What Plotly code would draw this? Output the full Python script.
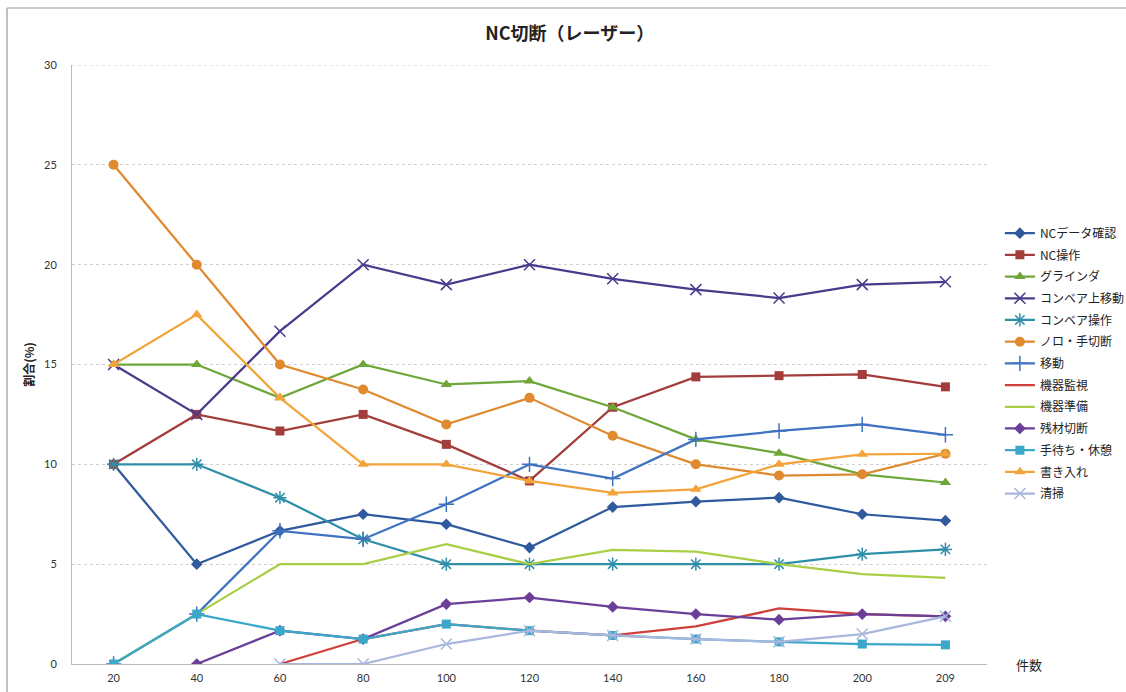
import plotly.graph_objects as go

categories = ["20", "40", "60", "80", "100", "120", "140", "160", "180", "200", "209"]

nc_data = [10, 5, 6.67, 7.5, 7, 5.83, 7.86, 8.13, 8.33, 7.5, 7.18]
nc_ops = [10, 12.5, 11.67, 12.5, 11, 9.17, 12.86, 14.38, 14.44, 14.5, 13.88]
grinder = [15, 15, 13.33, 15, 14, 14.17, 12.86, 11.25, 10.56, 9.5, 9.09]
conv_move = [15, 12.5, 16.67, 20, 19, 20, 19.29, 18.75, 18.33, 19, 19.14]
conv_ops = [10, 10, 8.33, 6.25, 5, 5, 5, 5, 5, 5.5, 5.74]
noro = [25, 20, 15, 13.75, 12, 13.33, 11.43, 10, 9.44, 9.5, 10.53]
move = [0, 2.5, 6.67, 6.25, 8, 10, 9.29, 11.25, 11.67, 12, 11.48]
monitor = [None, None, 0, 1.25, 2, 1.67, 1.43, 1.88, 2.78, 2.5, 2.39]
prep = [0, 2.5, 5, 5, 6, 5, 5.71, 5.63, 5, 4.5, 4.31]
scrap = [None, 0, 1.67, 1.25, 3, 3.33, 2.86, 2.5, 2.22, 2.5, 2.39]
waiting = [0, 2.5, 1.67, 1.25, 2, 1.67, 1.43, 1.25, 1.11, 1, 0.96]
writing = [15, 17.5, 13.33, 10, 10, 9.17, 8.57, 8.75, 10, 10.5, 10.53]
cleaning = [None, None, 0, 0, 1, 1.67, 1.43, 1.25, 1.11, 1.5, 2.39]

series = [
    ("NCデータ確認", nc_data, "#2F5A9E", "diamond", 9, 0),
    ("NC操作", nc_ops, "#A33D3B", "square", 9, 0),
    ("グラインダ", grinder, "#6FA63A", "triangle-up", 10, 0),
    ("コンベア上移動", conv_move, "#4B3A8C", "x-thin-open", 11, 1.5),
    ("コンベア操作", conv_ops, "#2F8FA8", "asterisk-open", 11, 1.5),
    ("ノロ・手切断", noro, "#E08A30", "circle", 10, 0),
    ("移動", move, "#3F72C0", "cross-thin-open", 11, 1.5),
    ("機器監視", monitor, "#D0403A", None, 0, 0),
    ("機器準備", prep, "#A8CF45", None, 0, 0),
    ("残材切断", scrap, "#6B3E98", "diamond", 9, 0),
    ("手待ち・休憩", waiting, "#3BA7C9", "square", 9, 0),
    ("書き入れ", writing, "#F2A43A", "triangle-up", 10, 0),
    ("清掃", cleaning, "#A9B7DE", "x-thin-open", 11, 1.5),
]

FONT = "Lato, 'Noto Sans CJK JP', sans-serif"
JP = "'Noto Sans CJK JP', sans-serif"

fig = go.Figure()
for i, (name, vals, color, sym, size, lw) in enumerate(series):
    if sym is None:
        fig.add_trace(go.Scatter(
            x=categories, y=vals, name=name, mode="lines",
            line=dict(color=color, width=2.25), legendgroup=str(i),
        ))
    else:
        fig.add_trace(go.Scatter(
            x=categories, y=vals, name=name, mode="lines+markers",
            line=dict(color=color, width=2.25),
            marker=dict(symbol=sym, size=size, color=color,
                        line=dict(color=color, width=lw)),
            legendgroup=str(i),
        ))

fig.update_layout(
    width=1126, height=692,
    margin=dict(l=72, r=139, t=65, b=28, autoexpand=False),
    paper_bgcolor="white", plot_bgcolor="white",
    font=dict(family=FONT, size=11, color="#333333"),
    title=dict(text="<b>NC切断（レーザー）</b>", x=0.506, xanchor="center",
               y=0.952, yanchor="middle",
               font=dict(family=JP, size=18, color="#222222")),
    showlegend=True,
    legend=dict(xref="container", yref="container", x=0.888, xanchor="left",
                y=0.684, yanchor="top",
                font=dict(family=JP, size=12, color="#222222"),
                tracegroupgap=2.7, itemwidth=30, bgcolor="rgba(0,0,0,0)"),
    xaxis=dict(type="category", range=[-0.5, 10.5], showgrid=False,
               showline=True, linecolor="#BBBBBB", linewidth=1,
               ticks="", ticklabelstandoff=4,
               tickfont=dict(size=11, color="#333333"), zeroline=False),
    yaxis=dict(range=[0, 30], dtick=5, showgrid=True, gridcolor="#CFCFCF",
               griddash="dot", gridwidth=1, showline=True, linecolor="#BBBBBB",
               tickfont=dict(size=11, color="#333333"), ticks="",
               ticklabelstandoff=12,
               zeroline=False,
               title=dict(text="<b>割合(%)</b>", standoff=6,
                          font=dict(family=JP, size=12, color="#222222"))),
    annotations=[dict(text="件数", xref="paper", yref="paper", x=1.03, y=0.0,
                      xanchor="left", yanchor="middle", showarrow=False,
                      font=dict(family=JP, size=13, color="#222222"))],
    shapes=[
        dict(type="line", xref="paper", yref="paper", x0=-0.071, x1=1.2, y0=1.0952, y1=1.0952,
             line=dict(color="#999999", width=1.2)),
        dict(type="line", xref="paper", yref="paper", x0=-0.071, x1=-0.071, y0=1.0952, y1=-0.06,
             line=dict(color="#999999", width=1.2)),
        dict(type="line", xref="paper", yref="y", x0=0, x1=1, y0=30, y1=30,
             line=dict(color="#CFCFCF", width=1, dash="dot")),
    ],
)

fig.write_html("out.html")
